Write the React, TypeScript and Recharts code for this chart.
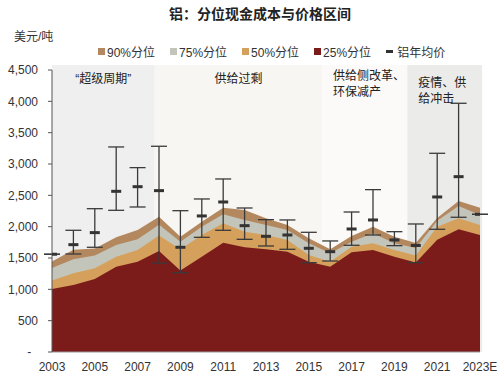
import React from "react"
import { ComposedChart, Area, Line, XAxis, YAxis, ReferenceArea, ErrorBar } from "recharts"

const FONT = '"Liberation Sans", Arial, "Noto Sans CJK SC", sans-serif'

// 年份
const years = [2003, 2004, 2005, 2006, 2007, 2008, 2009, 2010, 2011, 2012, 2013, 2014, 2015, 2016, 2017, 2018, 2019, 2020, 2021, 2022, 2023]

// 分位现金成本（美元/吨）
const p25 = [1005, 1070, 1165, 1360, 1440, 1610, 1300, 1520, 1745, 1670, 1640, 1600, 1440, 1360, 1590, 1628, 1521, 1430, 1790, 1958, 1867]
const p50 = [1140, 1255, 1335, 1520, 1628, 1860, 1640, 1867, 2054, 1920, 1867, 1788, 1548, 1441, 1681, 1735, 1628, 1540, 2000, 2133, 2027]
const p75 = [1340, 1480, 1540, 1708, 1800, 2030, 1760, 2000, 2197, 2107, 2027, 1947, 1735, 1575, 1760, 1894, 1735, 1660, 2096, 2330, 2187]
const p90 = [1445, 1630, 1650, 1830, 1947, 2160, 1840, 2080, 2303, 2266, 2134, 2027, 1814, 1639, 1850, 2000, 1840, 1740, 2140, 2410, 2300]

// 铝年均价及区间
const priceAvg = [1560, 1713, 1905, 2564, 2638, 2575, 1671, 2171, 2394, 2016, 1846, 1867, 1655, 1601, 1963, 2107, 1788, 1700, 2474, 2798, 2197]
const priceMin = [null, 1564, 1671, 2261, 2314, 1420, 1266, 1830, 1942, 1798, 1692, 1639, 1426, 1452, 1703, 1867, 1697, 1426, 1958, 2150, null]
const priceMax = [null, 1942, 2287, 3272, 2942, 3283, 2255, 2442, 2761, 2298, 2112, 2107, 1910, 1772, 2234, 2591, 1920, 2043, 3171, 3969, null]

const yTicks = [0, 500, 1000, 1500, 2000, 2500, 3000, 3500, 4000, 4500]
const xTicks = [2003, 2005, 2007, 2009, 2011, 2013, 2015, 2017, 2019, 2021, 2023]

const periods = [
  { lines: ["“超级周期”"], from: 2003, to: 2007.8, fill: "#efefef", align: "center", dy: 18 },
  { lines: ["供给过剩"], from: 2007.8, to: 2015.62, fill: "#f8f6f2", align: "center", dy: 18 },
  { lines: ["供给侧改革、", "环保减产"], from: 2015.62, to: 2019.6, fill: "#fbfaf9", align: "left", dy: 15 },
  { lines: ["疫情、供", "给冲击"], from: 2019.6, to: 2023.1, fill: "#ebebe9", align: "left", dy: 22 },
]

const series = [
  { key: "p90", name: "90%分位", color: "#b4885f" },
  { key: "p75", name: "75%分位", color: "#c4c5ba" },
  { key: "p50", name: "50%分位", color: "#d4a05c" },
  { key: "p25", name: "25%分位", color: "#7b1c1b" },
]

const data = years.map((year, i) => ({
  year,
  p25: p25[i],
  p50: p50[i],
  p75: p75[i],
  p90: p90[i],
  avg: priceAvg[i],
  err: priceMin[i] == null ? [0, 0] : [priceAvg[i] - (priceMin[i] as number), (priceMax[i] as number) - priceAvg[i]],
}))

const periodLabel = (lines: string[], align: string, dy: number) => (props: any) => {
  const { x, y, width } = props.viewBox
  const tx = align === "center" ? x + width / 2 : x + 11
  return (
    <text x={tx} y={y + dy} textAnchor={align === "center" ? "middle" : "start"} fontSize={12} fill="#222" fontFamily={FONT}>
      {lines.map((l, i) => (
        <tspan key={i} x={tx} dy={i === 0 ? 0 : 16}>
          {l}
        </tspan>
      ))}
    </text>
  )
}

const PriceDash = (props: any) => {
  const { cx, cy } = props
  if (cx == null || cy == null) return null
  return <rect x={cx - 5} y={cy - 1.5} width={10} height={3} fill="#333" />
}

function ChartLegend() {
  return (
    <div style={{ position: "absolute", top: 43, left: 98, display: "flex", alignItems: "center", fontSize: 12, color: "#333" }}>
      {series.map((s) => (
        <div key={s.key} style={{ display: "flex", alignItems: "center", marginRight: 15 }}>
          <span style={{ width: 7, height: 7, background: s.color, marginRight: 2, display: "inline-block" }} />
          <span>{s.name}</span>
        </div>
      ))}
      <div style={{ display: "flex", alignItems: "center" }}>
        <span style={{ width: 7, height: 3, background: "#333", marginRight: 4, display: "inline-block" }} />
        <span>铝年均价</span>
      </div>
    </div>
  )
}

export default function App() {
  return (
    <div style={{ position: "absolute", left: 0, top: 0, width: 500, height: 385, background: "#fff", fontFamily: FONT }}>
      <div style={{ position: "absolute", top: 3, width: 500, textAlign: "center", fontSize: 14, fontWeight: "bold", color: "#222", paddingLeft: 10 }}>
        铝：分位现金成本与价格区间
      </div>
      <div style={{ position: "absolute", top: 27, left: 14, fontSize: 12, color: "#333" }}>美元/吨</div>
      <ChartLegend />
      <ComposedChart width={500} height={385} data={data} margin={{ top: 70, right: 20, left: 0, bottom: 8 }}>
        {periods.map((p, i) => (
          <ReferenceArea
            key={i}
            x1={p.from}
            x2={p.to}
            y1={0}
            y2={4580}
            fill={p.fill}
            fillOpacity={1}
            stroke="none"
            ifOverflow="visible"
            label={periodLabel(p.lines, p.align, p.dy)}
          />
        ))}
        <XAxis
          dataKey="year"
          type="number"
          domain={[2003, 2023]}
          ticks={xTicks}
          tickFormatter={(v) => (v === 2023 ? "2023E" : String(v))}
          height={25}
          tickLine={false}
          tickMargin={4}
          axisLine={{ stroke: "#999" }}
          tick={{ fontSize: 12, fill: "#333", fontFamily: FONT }}
          allowDataOverflow
        />
        <YAxis
          type="number"
          domain={[0, 4500]}
          ticks={yTicks}
          width={52}
          tickSize={4}
          tickMargin={10}
          tickFormatter={(v) => (v === 0 ? "-\u00a0\u00a0" : v.toLocaleString("en-US"))}
          axisLine={{ stroke: "#555" }}
          tickLine={{ stroke: "#555" }}
          tick={{ fontSize: 12, fill: "#333", fontFamily: FONT }}
        />
        {series.map((s) => (
          <Area
            key={s.key}
            type="linear"
            dataKey={s.key}
            name={s.name}
            stroke="none"
            fill={s.color}
            fillOpacity={1}
            isAnimationActive={false}
            activeDot={false}
          />
        ))}
        <Line dataKey="avg" name="铝年均价" stroke="none" dot={<PriceDash />} activeDot={false} isAnimationActive={false}>
          <ErrorBar dataKey="err" direction="y" width={8} strokeWidth={1.3} stroke="#3a3a3a" />
        </Line>
      </ComposedChart>
    </div>
  )
}
